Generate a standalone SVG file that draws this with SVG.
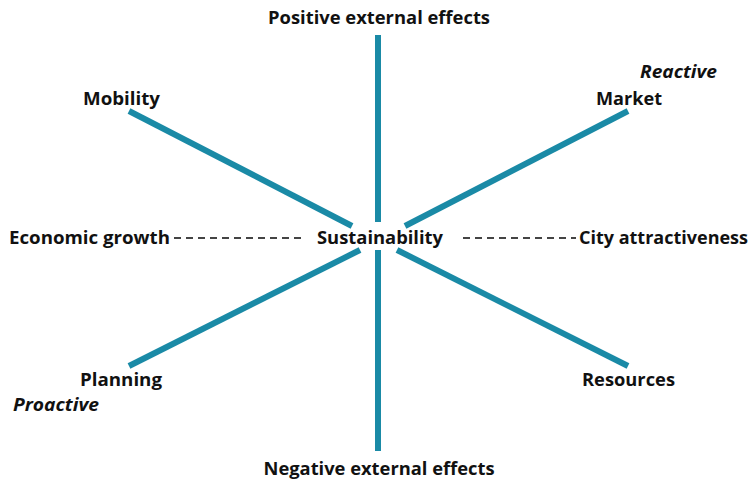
<svg xmlns="http://www.w3.org/2000/svg" width="755" height="482" viewBox="0 0 755 482">
<style>
text{font-family:"Open Sans","Liberation Sans",sans-serif;font-weight:bold;font-size:18px;fill:#111}
.it{font-style:italic}
.axis{stroke:#1a8aa6;stroke-width:6;fill:none}
.dash{stroke:#444;stroke-width:1.8;stroke-dasharray:7 5;fill:none}
</style>
<rect width="755" height="482" fill="#fff"/>
<g id="connectors">
<line class="axis" x1="378" y1="35" x2="378" y2="222"/>
<line class="axis" x1="378" y1="250" x2="378" y2="451"/>
<line class="axis" x1="129" y1="111" x2="352" y2="226"/>
<line class="axis" x1="628" y1="111" x2="405" y2="226"/>
<line class="axis" x1="129" y1="366" x2="360" y2="250"/>
<line class="axis" x1="628" y1="366" x2="397" y2="250"/>
<line class="dash" x1="174" y1="238" x2="304" y2="238"/>
<line class="dash" x1="463" y1="238" x2="576" y2="238"/>
</g>
<g id="center"><text x="380" y="244" text-anchor="middle" textLength="126" lengthAdjust="spacingAndGlyphs">Sustainability</text></g>
<g id="positive"><text x="379" y="24" text-anchor="middle" textLength="222" lengthAdjust="spacingAndGlyphs">Positive external effects</text></g>
<g id="negative"><text x="379" y="475" text-anchor="middle" textLength="231" lengthAdjust="spacingAndGlyphs">Negative external effects</text></g>
<g id="mobility"><text x="83" y="105" textLength="77" lengthAdjust="spacingAndGlyphs">Mobility</text></g>
<g id="market"><text x="596" y="105" textLength="66" lengthAdjust="spacingAndGlyphs">Market</text><text class="it" x="640" y="78" textLength="77" lengthAdjust="spacingAndGlyphs">Reactive</text></g>
<g id="economic"><text x="9" y="244" textLength="161" lengthAdjust="spacingAndGlyphs">Economic growth</text></g>
<g id="city"><text x="579" y="244" textLength="169" lengthAdjust="spacingAndGlyphs">City attractiveness</text></g>
<g id="planning"><text x="80" y="386" textLength="82" lengthAdjust="spacingAndGlyphs">Planning</text><text class="it" x="13" y="411" textLength="86" lengthAdjust="spacingAndGlyphs">Proactive</text></g>
<g id="resources"><text x="582" y="386" textLength="93" lengthAdjust="spacingAndGlyphs">Resources</text></g>
</svg>
